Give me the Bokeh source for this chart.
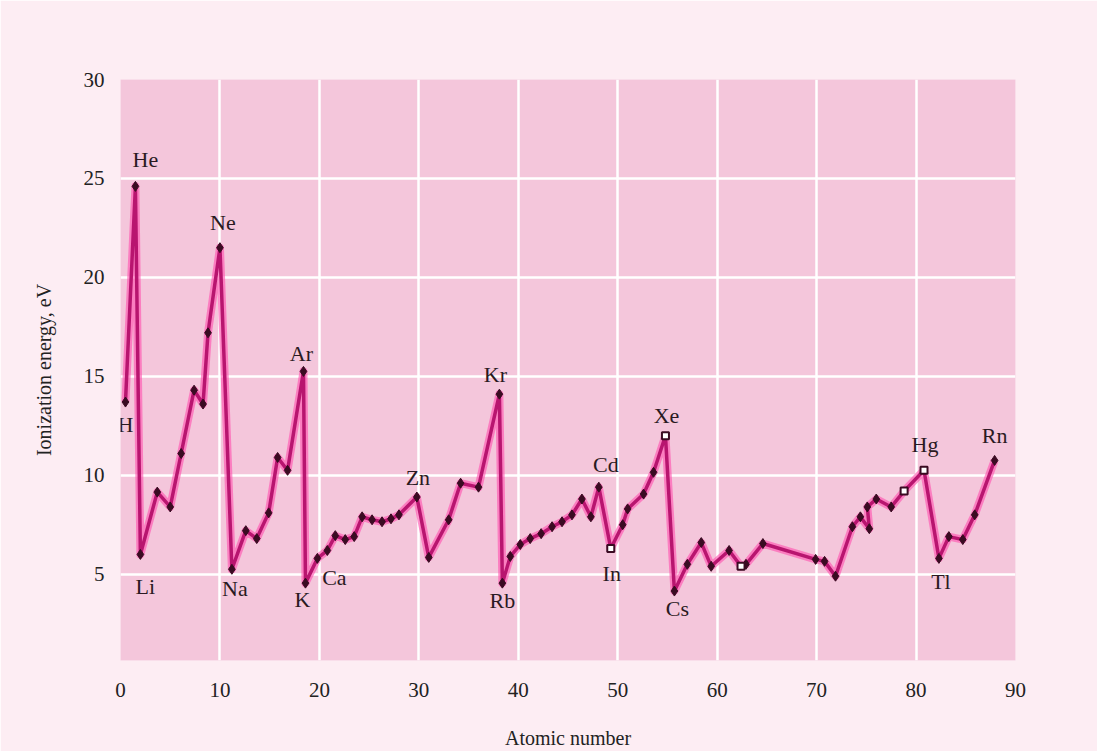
from bokeh.plotting import figure
from bokeh.models import Range1d, FixedTicker, ColumnDataSource
from bokeh.core.properties import value
from bokeh.embed import file_html
from bokeh.resources import INLINE

# ---- data ----
atomic_pos = [0.5, 1.5, 2.0, 3.7, 5.0, 6.1, 7.4, 8.3, 8.8, 10.0,
              11.2, 12.6, 13.7, 14.9, 15.8, 16.8, 18.4, 18.6, 19.8, 20.8,
              21.6, 22.6, 23.5, 24.3, 25.3, 26.3, 27.2, 28.0, 29.8, 31.0,
              33.0, 34.2, 36.0, 38.1, 38.4, 39.2, 40.2, 41.2, 42.3, 43.4,
              44.4, 45.4, 46.4, 47.3, 48.1, 49.3, 50.5, 51.0, 52.6, 53.6,
              54.8, 55.7, 57.0, 58.4, 59.4, 61.2, 62.4, 62.9, 64.6, 69.9,
              70.8, 71.9, 73.6, 74.4, 75.3, 75.1, 76.0, 77.5, 78.8, 80.8,
              82.3, 83.3, 84.7, 85.9, 87.9]
energy_ev = [13.7, 24.6, 6.0, 9.15, 8.4, 11.1, 14.3, 13.6, 17.2, 21.5,
             5.25, 7.2, 6.8, 8.1, 10.9, 10.25, 15.25, 4.55, 5.8, 6.2,
             6.95, 6.75, 6.9, 7.9, 7.75, 7.65, 7.8, 8.0, 8.9, 5.85,
             7.75, 9.6, 9.4, 14.1, 4.55, 5.9, 6.5, 6.8, 7.05, 7.4,
             7.65, 8.0, 8.8, 7.9, 9.4, 6.3, 7.5, 8.3, 9.05, 10.15,
             12.0, 4.15, 5.5, 6.6, 5.4, 6.2, 5.4, 5.5, 6.55, 5.75,
             5.65, 4.9, 7.4, 7.9, 7.3, 8.4, 8.8, 8.4, 9.2, 10.25,
             5.8, 6.9, 6.75, 8.0, 10.75]
hollow_points = [45, 50, 56, 68, 69]

label_names = ["H", "He", "Li", "Ne", "Na", "Ar", "K", "Ca", "Zn", "Kr",
               "Rb", "Cd", "In", "Xe", "Cs", "Hg", "Tl", "Rn"]
label_point = [0, 1, 2, 9, 10, 16, 17, 18, 28, 33,
               34, 44, 45, 50, 51, 69, 70, 74]

x_ticks = [0, 10, 20, 30, 40, 50, 60, 70, 80, 90]
y_ticks = [5, 10, 15, 20, 25, 30]

# ---- layout of the labels (screen pixel offsets) ----
label_dx = [0, 10, 5, 3, 3, -2, -3, 17, 1, -4, 0, 7, 1, 1, 3, 1, 2, 0]
label_dy = [22, -27, 32, -25, 19, -18, 16, 19, -20, -20, 17, -23, 25, -20, 17, -26, 23, -25]

SERIF = "Liberation Serif"
BG = "#fdedf3"
PLOT_BG = "#f4c6db"

p = figure(frame_width=895, frame_height=581,
           min_border_left=120, min_border_right=82,
           min_border_top=79, min_border_bottom=88,
           x_range=Range1d(0, 90), y_range=Range1d(0.64, 30),
           output_backend="svg", toolbar_location=None)
p.background_fill_color = PLOT_BG
p.border_fill_color = BG
p.outline_line_color = None

p.xaxis.ticker = FixedTicker(ticks=x_ticks)
p.yaxis.ticker = FixedTicker(ticks=y_ticks)
for ax in (p.xaxis, p.yaxis):
    ax.axis_line_color = None
    ax.major_tick_line_color = None
    ax.minor_tick_line_color = None
    ax.major_label_text_font = SERIF
    ax.major_label_text_font_size = "21px"
    ax.major_label_text_color = "#222222"
    ax.axis_label_text_font = SERIF
    ax.axis_label_text_font_size = "20px"
    ax.axis_label_text_font_style = "normal"
    ax.axis_label_text_color = "#222222"
p.xaxis.axis_label = "Atomic number"
p.yaxis.axis_label = "Ionization energy, eV"
p.xaxis.major_label_standoff = 16
p.xaxis.axis_label_standoff = 27
p.yaxis.major_label_standoff = 10
p.yaxis.axis_label_standoff = 26

p.xgrid.grid_line_color = "white"
p.ygrid.grid_line_color = "white"
p.xgrid.grid_line_width = 2.5
p.ygrid.grid_line_width = 2.5

src = ColumnDataSource(dict(x=atomic_pos, y=energy_ev))
p.line("x", "y", source=src, line_color="#ff4fae", line_width=8, line_alpha=0.6, line_join="round")
p.line("x", "y", source=src, line_color="#b8156f", line_width=3.5, line_join="round")

solid_idx = [i for i in range(len(atomic_pos)) if i not in hollow_points]
p.scatter([atomic_pos[i] for i in solid_idx], [energy_ev[i] for i in solid_idx],
          marker="diamond", size=10, fill_color="#3a0b22", line_color="#3a0b22")
p.scatter([atomic_pos[i] for i in hollow_points], [energy_ev[i] for i in hollow_points],
          marker="square", size=7, fill_color="white", line_color="#3a0b22", line_width=2)

for name, idx, dx, dy in zip(label_names, label_point, label_dx, label_dy):
    p.text([atomic_pos[idx]], [energy_ev[idx]], text=[name],
           x_offset=dx, y_offset=dy, text_align="center", text_baseline="middle",
           text_font=value(SERIF), text_font_size="22px", text_color="#2a1a22")

open("out.html", "w").write(file_html(p, INLINE))
